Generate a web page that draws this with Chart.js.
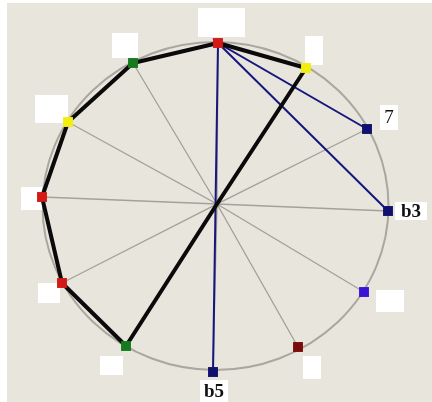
<!DOCTYPE html>
<html>
<head>
<meta charset="utf-8">
<script src="https://cdn.jsdelivr.net/npm/chart.js@4.4.1/dist/chart.umd.min.js"></script>
<style>
  html, body { margin: 0; padding: 0; background: #ffffff; }
  #wrap { width: 432px; height: 402px; }
</style>
</head>
<body>
<div id="wrap"><canvas id="noteCircle" width="432" height="402"></canvas></div>
<script>
// twelve notes around the circle, clockwise from the top (labels mostly blanked out in the picture)
const noteLabels = ['', '', '7', 'b3', '', '', 'b5', '', '', '', '', ''];
// positions, centre of the circle = (0, 0)
const noteX = [1, 89, 150, 171, 147, 81, -4, -91, -155, -175, -149, -84];
const noteY = [161, 136, 75, -7, -88, -143, -168, -142, -79, 7, 82, 141];
const noteColors = ['#d21a16', '#f2ee10', '#10106e', '#10106e', '#3a14d6', '#7a0c0c',
                    '#10106e', '#167a1e', '#d21a16', '#d21a16', '#f2ee10', '#167a1e'];
// black shape: centre -> notes -> centre (-1 = centre)
const shapePath = [-1, 1, 0, 11, 10, 9, 8, 7, -1];
// blue chords from the top note
const chordFrom = 0;
const chordTo = [2, 3, 6];
// outline of the circle
const ringCentre = { x: -1.5, y: -2 };
const ringRadius = { x: 173, y: 164 };

const centre = { x: 0, y: 0 };
const pt = (i) => (i < 0 ? centre : { x: noteX[i], y: noteY[i] });

const spokeData = [];
noteX.forEach((_, i) => { spokeData.push(centre, pt(i)); });
const chordData = [];
chordTo.forEach((i) => { chordData.push(pt(chordFrom), pt(i)); });
const shapeData = shapePath.map(pt);
const markerData = noteX.map((_, i) => pt(i));

// label boxes (white patches) relative to each marker: dx, dy, w, h
const labelBoxes = [
  [-20, -35, 47, 29], [-1, -32, 18, 29], [13, -24, 18, 25], [7, -9, 32, 18],
  [12, -2, 28, 22], [5, 9, 18, 23], [-13, 8, 28, 22], [-26, 10, 23, 19],
  [-24, 0, 22, 20], [-21, -10, 21, 23], [-33, -27, 33, 28], [-21, -30, 26, 25],
];

const paperPlugin = {
  id: 'paper',
  beforeDraw(chart) {
    const ctx = chart.ctx;
    ctx.save();
    ctx.fillStyle = '#ffffff';
    ctx.fillRect(0, 0, chart.width, chart.height);
    ctx.fillStyle = '#e8e5dc';
    ctx.fillRect(7, 3, chart.width - 7, chart.height - 3);
    ctx.restore();
  },
  beforeDatasetsDraw(chart) {
    const { ctx, scales: { x, y } } = chart;
    const cx = x.getPixelForValue(ringCentre.x);
    const cy = y.getPixelForValue(ringCentre.y);
    const rx = x.getPixelForValue(ringCentre.x + ringRadius.x) - cx;
    const ry = cy - y.getPixelForValue(ringCentre.y + ringRadius.y);
    ctx.save();
    ctx.strokeStyle = '#a9a7a0';
    ctx.lineWidth = 2;
    ctx.beginPath();
    ctx.ellipse(cx, cy, rx, ry, 0, 0, Math.PI * 2);
    ctx.stroke();

    // label patches and the few labels still readable
    noteLabels.forEach((label, i) => {
      const px = x.getPixelForValue(noteX[i]);
      const py = y.getPixelForValue(noteY[i]);
      const [dx, dy, w, h] = labelBoxes[i];
      ctx.fillStyle = '#ffffff';
      ctx.fillRect(px + dx, py + dy, w, h);
      if (label) {
        ctx.fillStyle = '#111111';
        ctx.font = (label === '7' ? '' : 'bold ') + '19px "Liberation Serif", serif';
        ctx.textAlign = 'center';
        ctx.textBaseline = 'middle';
        ctx.fillText(label, px + dx + w / 2, py + dy + h / 2 + 1);
      }
    });
    ctx.restore();
  },
};

new Chart(document.getElementById('noteCircle'), {
  type: 'scatter',
  data: {
    datasets: [
      {
        data: markerData,
        pointStyle: 'rect',
        pointRadius: 7,
        pointBorderWidth: 0,
        pointBackgroundColor: noteColors,
        showLine: false,
        order: 0,
      },
      {
        data: shapeData,
        showLine: true,
        borderColor: '#0a0a0a',
        borderWidth: 4,
        borderJoinStyle: 'round',
        pointRadius: 0,
        order: 1,
      },
      {
        data: chordData,
        showLine: true,
        borderColor: '#16167e',
        borderWidth: 2,
        pointRadius: 0,
        order: 2,
      },
      {
        data: spokeData,
        showLine: true,
        borderColor: '#a3a19b',
        borderWidth: 1.3,
        pointRadius: 0,
        order: 3,
      },
    ],
  },
  options: {
    responsive: false,
    animation: false,
    layout: { padding: 0, autoPadding: false },
    plugins: { legend: { display: false }, tooltip: { enabled: false } },
    scales: {
      x: { type: 'linear', min: -217, max: 215, display: false },
      y: { type: 'linear', min: -198, max: 204, display: false },
    },
    elements: { line: { tension: 0 } },
    datasets: { scatter: { clip: false } },
  },
  plugins: [paperPlugin],
});
</script>
</body>
</html>
